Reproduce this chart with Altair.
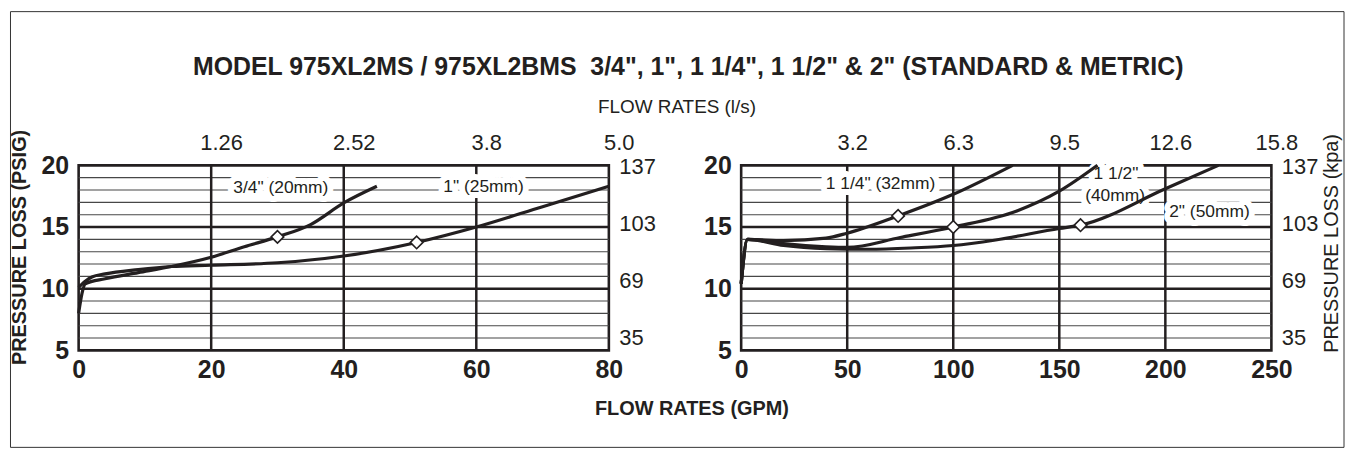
import json
import altair as alt
import pandas as pd

FONT = "Liberation Sans"
INK = "#231f20"

# ---------------- text ----------------
TITLE = 'MODEL 975XL2MS / 975XL2BMS\u00a0 3/4", 1", 1 1/4", 1 1/2" & 2" (STANDARD & METRIC)'
TOP_TITLE = "FLOW RATES (l/s)"
X_TITLE = "FLOW RATES (GPM)"
Y_TITLE_LEFT = "PRESSURE LOSS (PSIG)"
Y_TITLE_RIGHT = "PRESSURE LOSS (kpa)"

# ---------------- left panel: 3/4" and 1" ----------------
s34_gpm = [0, 0.5, 1, 4, 9, 14, 20, 25, 30, 35, 40, 45]
s34_psi = [8.0, 9.6, 10.4, 10.8, 11.3, 11.8, 12.55, 13.4, 14.2, 15.2, 16.95, 18.3]
s1_gpm = [0, 1, 2, 4, 9, 14, 20, 30, 40, 51, 60, 70, 80]
s1_psi = [10.1, 10.6, 10.95, 11.2, 11.55, 11.8, 11.9, 12.1, 12.65, 13.75, 15.0, 16.65, 18.3]

left_diamond_gpm = [30, 51]
left_diamond_psi = [14.2, 13.75]

left_label_text = ['3/4" (20mm)', '1" (25mm)']
left_label_gpm = [30.5, 61.1]
left_label_psi = [18.2, 18.27]

left_gpm_ticks = [0, 20, 40, 60, 80]
left_vgrid = [20, 40, 60]
left_lps_at = [20, 40, 60, 80]
left_lps_labels = ["1.26", "2.52", "3.8", "5.0"]

# ---------------- right panel: 1 1/4", 1 1/2", 2" ----------------
s114_gpm = [0, 3, 20, 40, 50, 74, 100, 128]
s114_psi = [10.4, 14.0, 13.9, 14.1, 14.5, 15.9, 17.65, 20.0]
s112_gpm = [0, 3, 20, 40, 50, 75, 100, 130, 150, 168]
s112_psi = [10.4, 14.0, 13.65, 13.4, 13.35, 14.15, 15.0, 16.3, 17.9, 20.0]
s2_gpm = [0, 3, 20, 40, 60, 80, 100, 120, 150, 160, 200, 225]
s2_psi = [10.4, 14.0, 13.5, 13.25, 13.2, 13.3, 13.5, 13.95, 14.88, 15.15, 18.1, 20.0]

right_diamond_gpm = [74, 100, 160]
right_diamond_psi = [15.9, 15.0, 15.15]

right_label_text = ['1 1/4" (32mm)', '1 1/2"', "(40mm)", '2" (50mm)']
right_label_gpm = [65.7, 176.7, 176.3, 220.8]
right_label_psi = [18.46, 19.32, 17.55, 16.2]

right_gpm_ticks = [0, 50, 100, 150, 200, 250]
right_vgrid = [50, 100, 150, 200]
right_lps_at = [50, 100, 150, 200, 250]
right_lps_labels = ["3.2", "6.3", "9.5", "12.6", "15.8"]

# ---------------- shared y ----------------
psi_ticks = [5, 10, 15, 20]
psi_major = [10, 15]
psi_minor = [6, 7, 8, 9, 11, 12, 13, 14, 16, 17, 18, 19]
kpa_labels = [35, 69, 103, 137]
kpa_domain = [27.4, 137.8]

W, H = 533, 186


def series_frame(pairs):
    rows = []
    for name, xs, ys in pairs:
        for i, (gx, py) in enumerate(zip(xs, ys)):
            rows.append({"series": name, "gpm": gx, "psi": py, "order": i})
    return pd.DataFrame(rows)


def panel(curves, d_gpm, d_psi, lab_text, lab_gpm, lab_psi, gpm_max, gpm_ticks,
          vgrid, lps_at, lps_labels, lps_offset, left_title, right_title, bottom_title,
          top_title, frame=False):
    xs = alt.Scale(domain=[0, gpm_max], nice=False, zero=False)

    def ys():
        return alt.Scale(domain=[5, 20], nice=False, zero=False)

    minor = alt.Chart(pd.DataFrame({"psi": psi_minor})).mark_rule(
        color="#474747", strokeWidth=1.1
    ).encode(y=alt.Y("psi:Q", scale=ys(), axis=None))

    major = alt.Chart(pd.DataFrame({"psi": psi_major})).mark_rule(
        color=INK, strokeWidth=2.5
    ).encode(y=alt.Y("psi:Q", scale=ys(), axis=None))

    vlines = alt.Chart(pd.DataFrame({"gpm": vgrid})).mark_rule(
        color=INK, strokeWidth=2.5
    ).encode(x=alt.X("gpm:Q", scale=xs, axis=None))

    labs = pd.DataFrame({"text": lab_text, "gpm": lab_gpm, "psi": lab_psi})
    halo = alt.Chart(labs).mark_text(
        font=FONT, fontSize=17.5, fill="white", stroke="white", strokeWidth=12,
        strokeJoin="round", align="center", baseline="middle"
    ).encode(x=alt.X("gpm:Q", scale=xs, axis=None),
             y=alt.Y("psi:Q", scale=ys(), axis=None), text="text:N")
    text = alt.Chart(labs).mark_text(
        font=FONT, fontSize=17.5, color=INK, align="center", baseline="middle"
    ).encode(x=alt.X("gpm:Q", scale=xs, axis=None),
             y=alt.Y("psi:Q", scale=ys(), axis=None), text="text:N")

    x_axis = alt.Axis(
        orient="bottom", values=gpm_ticks, format="d", labelFontSize=25,
        labelFontWeight="bold", labelPadding=7, labelFlush=False, labelOverlap=False,
        title=bottom_title if bottom_title else None,
        **({"titleX": 616, "titleY": 58, "titleFontSize": 20, "titleFontWeight": "bold",
            "titleBaseline": "middle", "titleAlign": "center"} if bottom_title else {})
    )
    y_axis = alt.Axis(
        orient="left", values=psi_ticks, format="d", labelFontSize=25,
        labelFontWeight="bold", labelPadding=10, labelOverlap=False,
        title=left_title if left_title else None,
        **({"titleX": -59, "titleY": 82, "titleFontSize": 20, "titleFontWeight": "bold",
            "titleAngle": 270, "titleBaseline": "middle", "titleAlign": "center"} if left_title else {})
    )

    lines = alt.Chart(series_frame(curves)).mark_line(
        interpolate="monotone", strokeWidth=3.2, color=INK
    ).encode(
        x=alt.X("gpm:Q", scale=xs, axis=x_axis),
        y=alt.Y("psi:Q", scale=ys(), axis=y_axis),
        detail="series:N", order="order:Q"
    )

    diamonds = alt.Chart(pd.DataFrame({"gpm": d_gpm, "psi": d_psi})).mark_point(
        shape="diamond", filled=True, fill="white", stroke=INK, strokeWidth=1.6,
        size=160, opacity=1
    ).encode(x=alt.X("gpm:Q", scale=xs, axis=None),
             y=alt.Y("psi:Q", scale=ys(), axis=None))

    lps_expr = "{}[indexof({}, datum.value)]".format(json.dumps(lps_labels), json.dumps(lps_at))
    top = alt.Chart(pd.DataFrame({"gpm": lps_at})).mark_rule(opacity=0).encode(
        x=alt.X("gpm:Q", scale=xs, axis=alt.Axis(
            orient="top", values=lps_at, labelExpr=lps_expr, labelFontSize=22,
            labelPadding=11, labelOffset=lps_offset, labelFlush=False, labelOverlap=False,
            title=top_title if top_title else None,
            **({"titleX": 601, "titleY": -59, "titleFontSize": 19, "titleFontWeight": "normal",
                "titleBaseline": "middle", "titleAlign": "center"} if top_title else {})))
    )

    kpa = alt.Chart(pd.DataFrame({"kpa": kpa_labels})).mark_rule(opacity=0).encode(
        y=alt.Y("kpa:Q", scale=alt.Scale(domain=kpa_domain, nice=False, zero=False),
                axis=alt.Axis(
                    orient="right", values=kpa_labels, format="d", labelFontSize=22,
                    labelPadding=10, labelOverlap=False,
                    title=right_title if right_title else None,
                    **({"titleX": 60, "titleY": 78, "titleFontSize": 20, "titleFontWeight": "normal",
                        "titleAngle": 270, "titleBaseline": "middle", "titleAlign": "center"} if right_title else {})))
    )

    parts = [minor, major, vlines, halo, text, lines, diamonds, top, kpa]
    if frame:
        border = alt.Chart(pd.DataFrame({"a": [0]})).mark_rect(
            filled=False, stroke="#333333", strokeWidth=1
        ).encode(x=alt.value(-68.5), x2=alt.value(1272), y=alt.value(-154.5), y2=alt.value(283.5))
        parts.append(border)

    return alt.layer(*parts).resolve_scale(y="independent").resolve_axis(
        x="independent", y="independent").properties(width=W, height=H)


left = panel(
    [('3/4"', s34_gpm, s34_psi), ('1"', s1_gpm, s1_psi)],
    left_diamond_gpm, left_diamond_psi,
    left_label_text, left_label_gpm, left_label_psi,
    80, left_gpm_ticks, left_vgrid, left_lps_at, left_lps_labels, 10,
    Y_TITLE_LEFT, None, X_TITLE, TOP_TITLE, frame=True)

right = panel(
    [('1 1/4"', s114_gpm, s114_psi), ('1 1/2"', s112_gpm, s112_psi), ('2"', s2_gpm, s2_psi)],
    right_diamond_gpm, right_diamond_psi,
    right_label_text, right_label_gpm, right_label_psi,
    250, right_gpm_ticks, right_vgrid, right_lps_at, right_lps_labels, 5,
    None, Y_TITLE_RIGHT, None, None)

chart = alt.hconcat(left, right, spacing=133, bounds="flush").properties(
    title=alt.TitleParams(
        text=TITLE, anchor="middle", offset=-70, dx=11,
        font=FONT, fontSize=25, fontWeight="bold", color=INK),
    padding=0, background="white"
).configure_view(
    stroke=INK, strokeWidth=2.6
).configure_axis(
    domain=False, ticks=False, tickSize=0, grid=False,
    labelFont=FONT, titleFont=FONT, labelColor=INK, titleColor=INK
)

chart.save("out.html", embed_options={"renderer": "svg", "actions": False})
